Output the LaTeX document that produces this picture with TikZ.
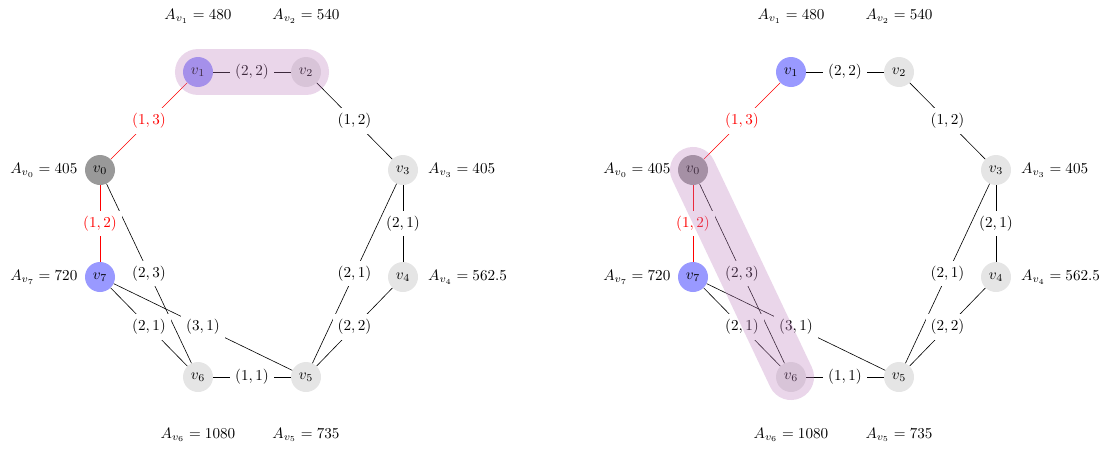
\documentclass[tikz,border=0pt]{standalone}
\usepackage{amsmath}
\usetikzlibrary{positioning}
\begin{document}
\begin{tikzpicture}[
 x=0.66pt,y=-0.66pt,
 node distance=1.3pt,
 vertex/.style={circle,fill=black!10,minimum size=19.8pt,inner sep=0pt},
 current/.style={vertex,fill=black!40},
 visited/.style={vertex,fill=blue!40},
 cost/.style={fill=white},
 chosen/.style={red},
 group/.style={line width=30.4pt,line cap=round,draw=violet!50,opacity=0.32}
]
\useasboundingbox (0,0) rectangle (1107,451);
% left graph
\node[current] (l0) at (100,170) {$v_0$};
\node[visited] (l1) at (198,72) {$v_1$};
\node[vertex] (l2) at (306,72) {$v_2$};
\node[vertex] (l3) at (403,170) {$v_3$};
\node[vertex] (l4) at (403,277) {$v_4$};
\node[vertex] (l5) at (306,377) {$v_5$};
\node[vertex] (l6) at (198,377) {$v_6$};
\node[visited] (l7) at (100,277) {$v_7$};
\node[left=of l0] (la0) {$A_{v_0}=405$};
\node[above=18.7pt of l1] (la1) {$A_{v_1}=480$};
\node[above=18.7pt of l2] (la2) {$A_{v_2}=540$};
\node[right=3pt of l3] (la3) {$A_{v_3}=405$};
\node[right=3pt of l4] (la4) {$A_{v_4}=562.5$};
\node[below=19.8pt of l5] (la5) {$A_{v_5}=735$};
\node[below=19.8pt of l6] (la6) {$A_{v_6}=1080$};
\node[left=of l7] (la7) {$A_{v_7}=720$};
\draw[chosen] (l0) -- node[cost]{$(1,3)$} (l1);
\draw (l1) -- node[cost]{$(2,2)$} (l2);
\draw (l2) -- node[cost]{$(1,2)$} (l3);
\draw (l3) -- node[cost]{$(2,1)$} (l4);
\draw (l3) -- node[cost]{$(2,1)$} (l5);
\draw (l4) -- node[cost]{$(2,2)$} (l5);
\draw (l5) -- node[cost]{$(1,1)$} (l6);
\draw (l0) -- node[cost]{$(2,3)$} (l6);
\draw[chosen] (l0) -- node[cost]{$(1,2)$} (l7);
\draw (l7) -- node[cost]{$(2,1)$} (l6);
\draw (l7) -- node[cost]{$(3,1)$} (l5);
\draw[group] (l1.center) -- (l2.center);
% right graph
\node[current] (r0) at (693,170) {$v_0$};
\node[visited] (r1) at (791,72) {$v_1$};
\node[vertex] (r2) at (899,72) {$v_2$};
\node[vertex] (r3) at (996,170) {$v_3$};
\node[vertex] (r4) at (996,277) {$v_4$};
\node[vertex] (r5) at (899,377) {$v_5$};
\node[vertex] (r6) at (791,377) {$v_6$};
\node[visited] (r7) at (693,277) {$v_7$};
\node[left=of r0] (ra0) {$A_{v_0}=405$};
\node[above=18.7pt of r1] (ra1) {$A_{v_1}=480$};
\node[above=18.7pt of r2] (ra2) {$A_{v_2}=540$};
\node[right=3pt of r3] (ra3) {$A_{v_3}=405$};
\node[right=3pt of r4] (ra4) {$A_{v_4}=562.5$};
\node[below=19.8pt of r5] (ra5) {$A_{v_5}=735$};
\node[below=19.8pt of r6] (ra6) {$A_{v_6}=1080$};
\node[left=of r7] (ra7) {$A_{v_7}=720$};
\draw[chosen] (r0) -- node[cost]{$(1,3)$} (r1);
\draw (r1) -- node[cost]{$(2,2)$} (r2);
\draw (r2) -- node[cost]{$(1,2)$} (r3);
\draw (r3) -- node[cost]{$(2,1)$} (r4);
\draw (r3) -- node[cost]{$(2,1)$} (r5);
\draw (r4) -- node[cost]{$(2,2)$} (r5);
\draw (r5) -- node[cost]{$(1,1)$} (r6);
\draw (r0) -- node[cost]{$(2,3)$} (r6);
\draw[chosen] (r0) -- node[cost]{$(1,2)$} (r7);
\draw (r7) -- node[cost]{$(2,1)$} (r6);
\draw (r7) -- node[cost]{$(3,1)$} (r5);
\draw[group] (r0.center) -- (r6.center);
\end{tikzpicture}
\end{document}
